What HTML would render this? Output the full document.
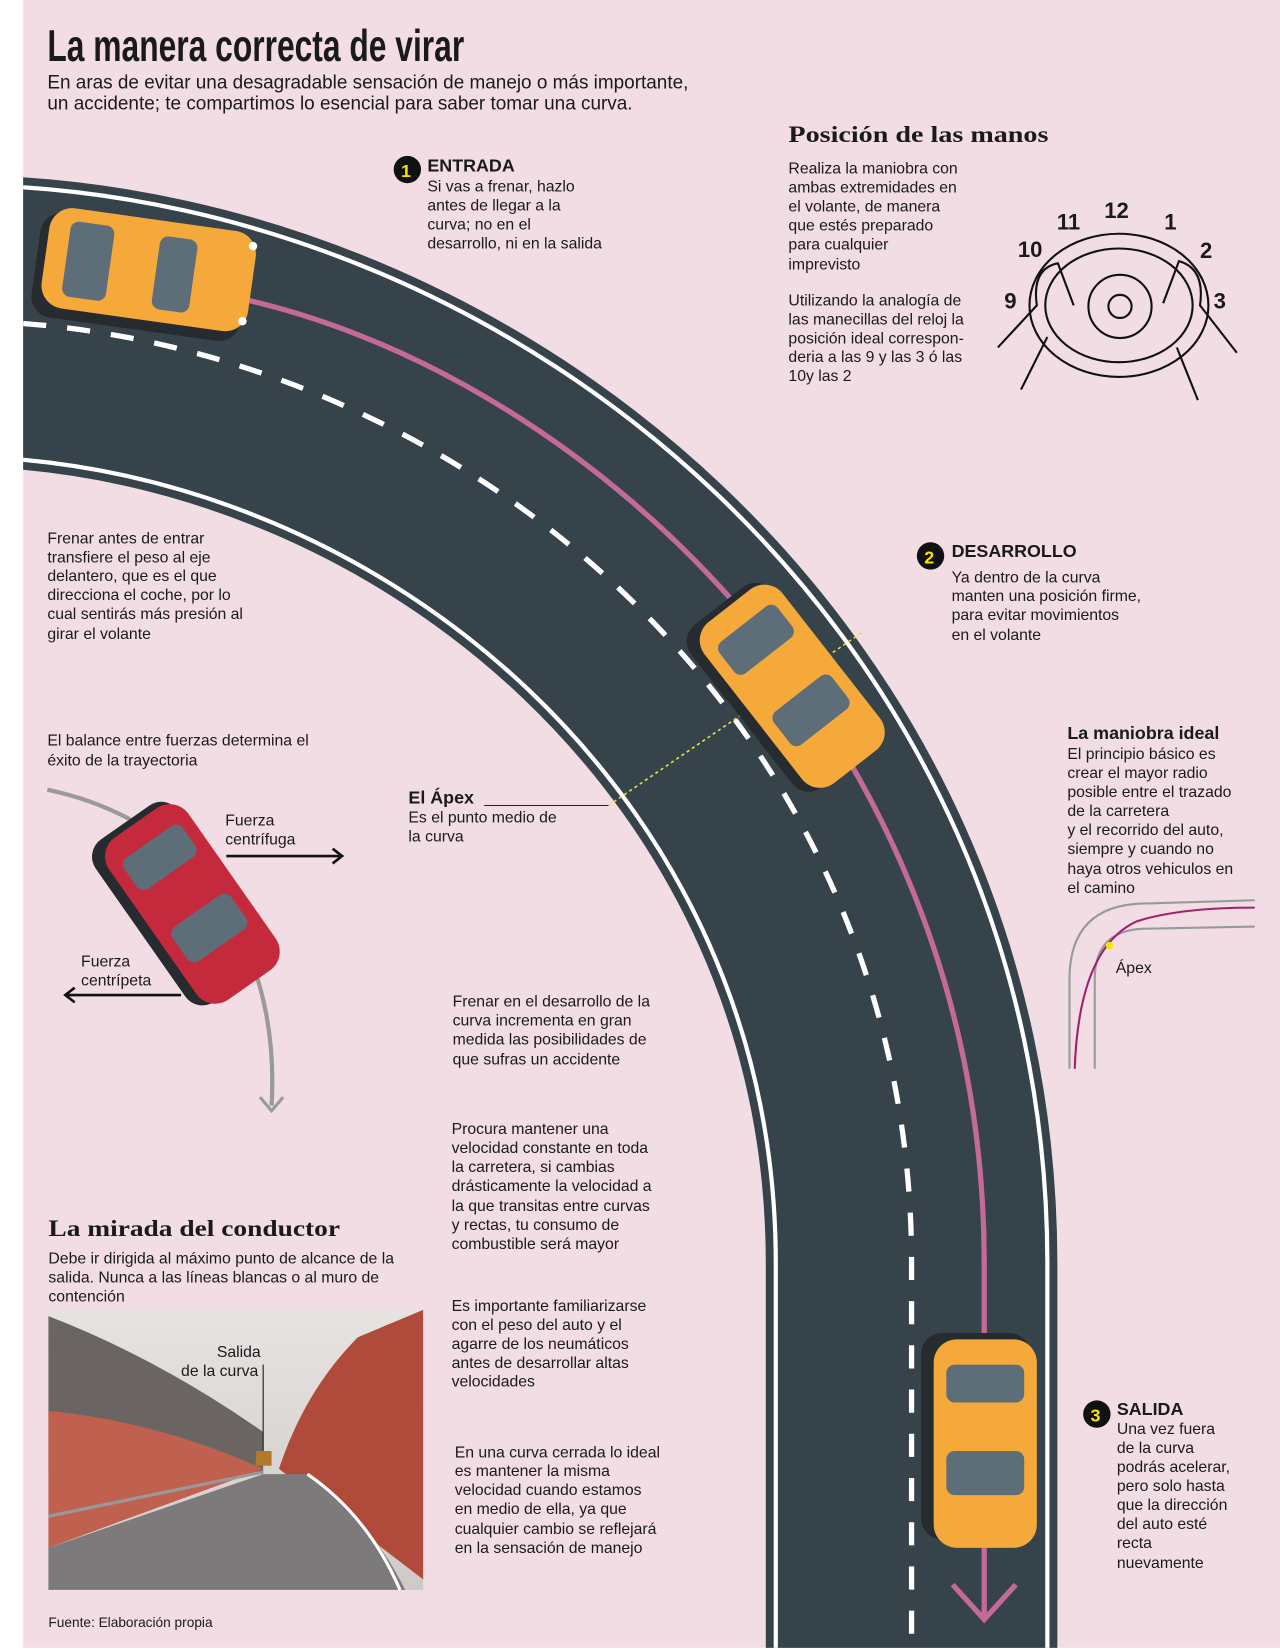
<!DOCTYPE html>
<html><head><meta charset="utf-8"><style>
html,body{margin:0;padding:0;background:#fff}
svg{display:block}
text{font-family:"Liberation Sans",sans-serif;fill:#1a1a1a}
.b{font-size:15px}
.h{font-weight:bold;font-size:17px}
.s{font-family:"Liberation Serif",serif;font-weight:bold;font-size:22px}
</style></head><body>
<svg width="1280" height="1651" viewBox="0 0 1216 1568" preserveAspectRatio="none" xmlns="http://www.w3.org/2000/svg">
<rect x="0" y="0" width="1216" height="1568" fill="#fff"/>
<rect x="22" y="0" width="1194" height="1565" fill="#f2dde5"/>
<defs><clipPath id="pg"><rect x="22" y="0" width="1194" height="1565"/></clipPath></defs>
<g clip-path="url(#pg)">
<path d="M-20,305 C 430,318 866,680 866,1200 L866,1640" fill="none" stroke="#37434a" stroke-width="277"/>
<path d="M-20,305 C 430,318 866,680 866,1200 L866,1640" fill="none" stroke="#fff" stroke-width="262"/>
<path d="M-20,305 C 430,318 866,680 866,1200 L866,1640" fill="none" stroke="#37434a" stroke-width="254"/>
<path d="M-20,305 C 430,318 866,680 866,1200 L866,1640" fill="none" stroke="#fff" stroke-width="5" stroke-dasharray="22,20"/>
<path d="M235,285 C 560,360 935,700 935,1200 L935,1535" fill="none" stroke="#c46a9a" stroke-width="5"/>
<path d="M905,1505 L935,1538 L965,1505" fill="none" stroke="#c46a9a" stroke-width="5"/>
</g>
<path d="M578,765 L820,600" stroke="#e8e23a" stroke-width="1.5" stroke-dasharray="3,3"/>
<path d="M460,765 L578,765" stroke="#222" stroke-width="1"/>
<g transform="translate(140,258) rotate(8)">
<rect x="-106" y="-44" width="200" height="100" rx="20" fill="#262b30"/>
<rect x="-98" y="-50" width="198" height="96" rx="22" fill="#f4a93a"/>
<rect x="-78" y="-38" width="42" height="72" rx="8" fill="#5d6e79"/>
<rect x="8" y="-36" width="36" height="70" rx="8" fill="#5d6e79"/>
<circle cx="96" cy="-38" r="4" fill="#fff"/><circle cx="96" cy="34" r="4" fill="#fff"/>
</g>
<g transform="translate(750,650) rotate(52)">
<rect x="-100" y="-42" width="196" height="98" rx="20" fill="#262b30"/>
<rect x="-94" y="-48" width="194" height="94" rx="22" fill="#f4a93a"/>
<rect x="-72" y="-36" width="38" height="70" rx="8" fill="#5d6e79"/>
<rect x="12" y="-36" width="40" height="70" rx="8" fill="#5d6e79"/>
</g>
<g transform="translate(935,1370) rotate(90)">
<rect x="-104" y="-44" width="196" height="104" rx="20" fill="#262b30"/>
<rect x="-98" y="-50" width="198" height="98" rx="22" fill="#f4a93a"/>
<rect x="-74" y="-38" width="36" height="74" rx="8" fill="#5d6e79"/>
<rect x="8" y="-38" width="42" height="74" rx="8" fill="#5d6e79"/>
</g>
<path d="M45,750 Q140,770 200,840 Q265,930 258,1050" fill="none" stroke="#9a9a9a" stroke-width="4"/>
<path d="M247,1042 L258,1055 L269,1042" fill="none" stroke="#9a9a9a" stroke-width="3"/>
<g transform="translate(180,858) rotate(55)">
<rect x="-98" y="-42" width="188" height="96" rx="20" fill="#262b30"/>
<rect x="-92" y="-48" width="188" height="92" rx="22" fill="#c52a3c"/>
<rect x="-70" y="-36" width="36" height="68" rx="8" fill="#5d6e79"/>
<rect x="10" y="-36" width="40" height="68" rx="8" fill="#5d6e79"/>
</g>
<path d="M215,813 L325,813 M316,806 L325,813 L316,820" fill="none" stroke="#111" stroke-width="2.5"/>
<path d="M172,945 L62,945 M71,938 L62,945 L71,952" fill="none" stroke="#111" stroke-width="2.5"/>
<text x="45" y="58" textLength="396" lengthAdjust="spacingAndGlyphs" style="font-family:'Liberation Sans Narrow','Liberation Sans',sans-serif;font-weight:bold;font-size:42px">La manera correcta de virar</text>
<text x="45" y="84" style="font-size:18px">En aras de evitar una desagradable sensación de manejo o más importante,</text>
<text x="45" y="104" style="font-size:18px">un accidente; te compartimos lo esencial para saber tomar una curva.</text>
<circle cx="387" cy="161" r="13" fill="#111"/><text x="381" y="168" style="font-weight:bold;font-size:17px;fill:#f5e400">1</text>
<text x="406" y="163" class="h">ENTRADA</text>
<g class="b"><text x="406" y="182">Si vas a frenar, hazlo</text><text x="406" y="200">antes de llegar a la</text><text x="406" y="218">curva; no en el</text><text x="406" y="236">desarrollo, ni en la salida</text></g>
<text x="749" y="135" class="s" textLength="247" lengthAdjust="spacingAndGlyphs">Posición de las manos</text>
<g class="b"><text x="749" y="165">Realiza la maniobra con</text><text x="749" y="183">ambas extremidades en</text><text x="749" y="201">el volante, de manera</text><text x="749" y="219">que estés preparado</text><text x="749" y="237">para cualquier</text><text x="749" y="256">imprevisto</text>
<text x="749" y="290">Utilizando la analogía de</text><text x="749" y="308">las manecillas del reloj la</text><text x="749" y="326">posición ideal correspon-</text><text x="749" y="344">deria a las 9 y las 3 ó las</text><text x="749" y="362">10y las 2</text></g>
<g style="font-weight:bold;font-size:21px"><text x="1049" y="207">12</text><text x="1004" y="218">11</text><text x="1106" y="218">1</text><text x="967" y="244">10</text><text x="1140" y="245">2</text><text x="954" y="293">9</text><text x="1153" y="293">3</text></g>
<g fill="none" stroke="#111" stroke-width="2">
<ellipse cx="1063" cy="290" rx="85" ry="68"/><ellipse cx="1063" cy="290" rx="70" ry="54"/>
<circle cx="1064" cy="291" r="11"/><circle cx="1064" cy="291" r="30"/>
<path d="M948,330 L985,290 Q980,255 1005,250 L1020,290 M1175,335 L1140,290 Q1145,255 1120,248 L1105,288 M970,370 L995,320 M1138,380 L1118,330"/>
</g>
<g class="b"><text x="45" y="516">Frenar antes de entrar</text><text x="45" y="534">transfiere el peso al eje</text><text x="45" y="552">delantero, que es el que</text><text x="45" y="570">direcciona el coche, por lo</text><text x="45" y="588">cual sentirás más presión al</text><text x="45" y="607">girar el volante</text>
<text x="45" y="708">El balance entre fuerzas determina el</text><text x="45" y="727">éxito de la trayectoria</text>
<text x="214" y="784">Fuerza</text><text x="214" y="802">centrífuga</text>
<text x="77" y="918">Fuerza</text><text x="77" y="936">centrípeta</text></g>
<text x="388" y="763" class="h">El Ápex</text>
<g class="b"><text x="388" y="781">Es el punto medio  de</text><text x="388" y="799">la curva</text></g>
<circle cx="884" cy="528" r="13" fill="#111"/><text x="878" y="535" style="font-weight:bold;font-size:17px;fill:#f5e400">2</text>
<text x="904" y="529" class="h">DESARROLLO</text>
<g class="b"><text x="904" y="553">Ya dentro de la curva</text><text x="904" y="571">manten una posición firme,</text><text x="904" y="589">para evitar movimientos</text><text x="904" y="608">en el volante</text></g>
<text x="1014" y="702" class="h">La maniobra ideal</text>
<g class="b"><text x="1014" y="721">El principio básico es</text><text x="1014" y="739">crear el mayor radio</text><text x="1014" y="757">posible entre el trazado</text><text x="1014" y="775">de la carretera</text><text x="1014" y="793">y el recorrido del auto,</text><text x="1014" y="811">siempre y cuando no</text><text x="1014" y="830">haya otros vehiculos en</text><text x="1014" y="848">el camino</text><text x="1060" y="924">Ápex</text></g>
<g fill="none" stroke-width="2">
<path d="M1016,1015 L1016,930 Q1016,858 1090,858 L1192,855" stroke="#999"/>
<path d="M1040,1015 L1040,930 Q1040,882 1090,882 L1192,880" stroke="#999"/>
<path d="M1021,1015 Q1025,900 1080,875 Q1120,862 1192,862" stroke="#a0206e"/>
</g>
<circle cx="1054" cy="898" r="3.5" fill="#f5e400"/>
<g class="b"><text x="430" y="956">Frenar en el desarrollo de la</text><text x="430" y="974">curva incrementa en gran</text><text x="430" y="992">medida las posibilidades de</text><text x="430" y="1011">que sufras un accidente</text>
<text x="429" y="1077">Procura mantener una</text><text x="429" y="1095">velocidad constante en toda</text><text x="429" y="1113">la carretera, si cambias</text><text x="429" y="1131">drásticamente la velocidad a</text><text x="429" y="1150">la que transitas entre curvas</text><text x="429" y="1168">y rectas, tu consumo de</text><text x="429" y="1186">combustible será mayor</text>
<text x="429" y="1245">Es importante familiarizarse</text><text x="429" y="1263">con el peso del auto y el</text><text x="429" y="1281">agarre de los neumáticos</text><text x="429" y="1299">antes de desarrollar altas</text><text x="429" y="1317">velocidades</text>
<text x="432" y="1384">En una curva cerrada lo ideal</text><text x="432" y="1402">es mantener la misma</text><text x="432" y="1420">velocidad cuando estamos</text><text x="432" y="1438">en medio de ella, ya que</text><text x="432" y="1457">cualquier cambio se reflejará</text><text x="432" y="1475">en la sensación de manejo</text></g>
<circle cx="1042" cy="1343" r="13" fill="#111"/><text x="1036" y="1350" style="font-weight:bold;font-size:17px;fill:#f5e400">3</text>
<text x="1061" y="1344" class="h">SALIDA</text>
<g class="b"><text x="1061" y="1362">Una vez fuera</text><text x="1061" y="1380">de la curva</text><text x="1061" y="1398">podrás acelerar,</text><text x="1061" y="1416">pero solo hasta</text><text x="1061" y="1434">que la dirección</text><text x="1061" y="1452">del auto esté</text><text x="1061" y="1470">recta</text><text x="1061" y="1489">nuevamente</text></g>
<text x="46" y="1174" class="s" textLength="277" lengthAdjust="spacingAndGlyphs">La mirada del conductor</text>
<g class="b"><text x="46" y="1200">Debe ir dirigida al máximo punto de alcance de la</text><text x="46" y="1218">salida. Nunca a las líneas blancas o al muro de</text><text x="46" y="1236">contención</text></g>
<defs><linearGradient id="sky" x1="0" y1="0" x2="0" y2="1"><stop offset="0" stop-color="#e6e3e2"/><stop offset="1" stop-color="#cfc9c7"/></linearGradient></defs>
<rect x="46" y="1244" width="356" height="266" fill="url(#sky)"/>
<path d="M46,1250 Q150,1290 250,1360 L250,1400 L46,1400 Z" fill="#6a6462"/>
<path d="M46,1340 Q150,1350 250,1395 L46,1470 Z" fill="#c0604f"/>
<path d="M402,1244 L340,1270 Q290,1320 265,1395 L402,1500 Z" fill="#b04a3a"/>
<path d="M46,1470 L250,1400 L290,1400 Q350,1440 385,1510 L46,1510 Z" fill="#7c7a7a"/>
<path d="M380,1510 Q350,1440 292,1400" stroke="#fff" stroke-width="3" fill="none"/>
<path d="M46,1440 L250,1398" stroke="#999" stroke-width="3"/>
<rect x="243" y="1378" width="15" height="14" fill="#b07a2a"/>
<path d="M250,1296 L250,1378" stroke="#111" stroke-width="1"/>
<g class="b"><text x="206" y="1289">Salida</text><text x="172" y="1307">de la curva</text></g>
<text x="46" y="1545" style="font-size:13px">Fuente: Elaboración propia</text>
</svg>
</body></html>
